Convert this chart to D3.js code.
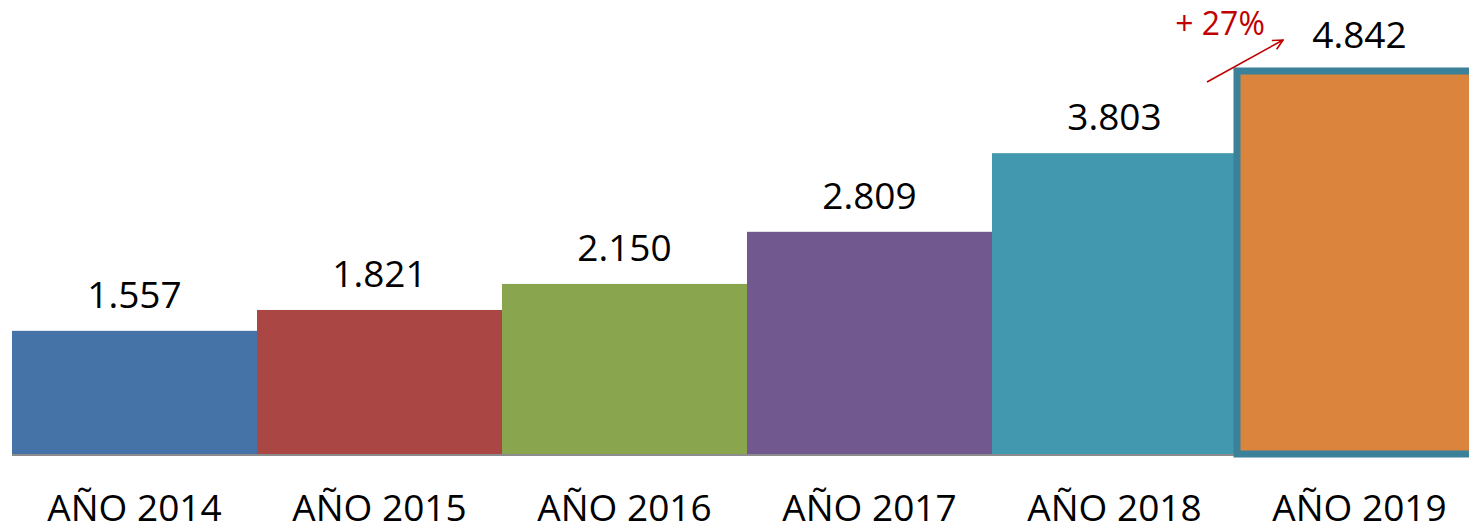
<!DOCTYPE html>
<html>
<head>
<meta charset="utf-8">
<script src="https://cdn.jsdelivr.net/npm/d3@7"></script>
<style>
  body { margin: 0; background: #fff; }
  svg { display: block; font-family: "Open Sans", sans-serif; }
</style>
</head>
<body>
<div id="chart"></div>
<script>
// Chart data
const years = ["AÑO 2014", "AÑO 2015", "AÑO 2016", "AÑO 2017", "AÑO 2018", "AÑO 2019"];
const values = [1.557, 1.821, 2.150, 2.809, 3.803, 4.842];
const valueLabels = ["1.557", "1.821", "2.150", "2.809", "3.803", "4.842"];
const colors = ["#4572a7", "#aa4643", "#89a54e", "#71588f", "#4198af", "#db843d"];
const growthLabel = "+ 27%";

const W = 1469, H = 526;
const baseY = 454;

const svg = d3.select("#chart")
  .append("svg")
  .attr("width", W)
  .attr("height", H);

// Scales
const x = d3.scaleBand()
  .domain(years)
  .range([12, 12 + 245 * years.length])
  .padding(0);

const y = d3.scaleLinear()
  .domain([0, 5])
  .range([baseY, baseY - 5 * 79.1]);

// Baseline axis
svg.append("line")
  .attr("x1", 12)
  .attr("x2", W)
  .attr("y1", baseY + 1)
  .attr("y2", baseY + 1)
  .attr("stroke", "#8c8c8c")
  .attr("stroke-width", 2);

// Bars
svg.selectAll(".bar")
  .data(values)
  .enter()
  .append("rect")
  .attr("class", "bar")
  .attr("x", (d, i) => x(years[i]))
  .attr("y", d => y(d))
  .attr("width", x.bandwidth())
  .attr("height", d => baseY - y(d))
  .attr("fill", (d, i) => colors[i])
  .attr("stroke", (d, i) => i === values.length - 1 ? "#3a8199" : "none")
  .attr("stroke-width", (d, i) => i === values.length - 1 ? 7 : 0);

// Value labels
svg.selectAll(".val")
  .data(values)
  .enter()
  .append("text")
  .attr("class", "val")
  .attr("x", (d, i) => x(years[i]) + x.bandwidth() / 2)
  .attr("y", d => y(d) - 23)
  .attr("text-anchor", "middle")
  .style("font-size", "37px")
  .attr("fill", "#000")
  .text((d, i) => valueLabels[i]);

// Category labels
svg.selectAll(".cat")
  .data(years)
  .enter()
  .append("text")
  .attr("class", "cat")
  .attr("x", d => x(d) + x.bandwidth() / 2)
  .attr("y", 521)
  .attr("text-anchor", "middle")
  .style("font-size", "37px")
  .attr("fill", "#000")
  .text(d => d);

// Growth annotation arrow
const defs = svg.append("defs");
defs.append("marker")
  .attr("id", "arrow")
  .attr("viewBox", "0 0 12 12")
  .attr("refX", 11)
  .attr("refY", 6)
  .attr("markerWidth", 12)
  .attr("markerHeight", 12)
  .attr("markerUnits", "userSpaceOnUse")
  .attr("orient", "auto")
  .append("path")
  .attr("d", "M1,1 L11,6 L1,11")
  .attr("fill", "none")
  .attr("stroke", "#c00000")
  .attr("stroke-width", 1.6);

svg.append("line")
  .attr("x1", 1207)
  .attr("y1", 82)
  .attr("x2", 1283)
  .attr("y2", 40)
  .attr("stroke", "#c00000")
  .attr("stroke-width", 1.6)
  .attr("marker-end", "url(#arrow)");

svg.append("text")
  .attr("x", 1220)
  .attr("y", 35)
  .attr("text-anchor", "middle")
  .style("font-size", "32px")
  .attr("fill", "#c00000")
  .text(growthLabel);
</script>
</body>
</html>
